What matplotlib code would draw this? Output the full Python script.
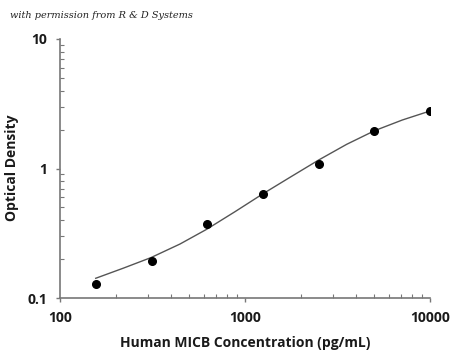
import numpy as np
import matplotlib
matplotlib.use("Agg")
import matplotlib.pyplot as plt
from matplotlib.ticker import LogLocator, NullFormatter, FixedLocator

# standard points (pg/mL, OD)
conc = [156, 312.5, 625, 1250, 2500, 5000, 10000]
od = [0.128, 0.192, 0.375, 0.635, 1.08, 1.95, 2.78]

# fitted curve
curve_x = [156, 220, 310, 445, 620, 883, 1246, 1751, 2502, 3544, 5022, 7088, 10000]
curve_y = [0.142, 0.170, 0.205, 0.261, 0.339, 0.464, 0.636, 0.855, 1.163, 1.537, 1.96, 2.369, 2.78]

x_ticks = [100, 1000, 10000]
x_ticklabels = ["100", "1000", "10000"]
y_ticks = [0.1, 1, 10]
y_ticklabels = ["0.1", "1", "10"]

fig = plt.figure(figsize=(4.5, 3.54), dpi=100)
ax = fig.add_axes([60/450, 1-298/354, 370/450, 259/354])

ax.plot(curve_x, curve_y, color="#555555", lw=1.0, zorder=2)
ax.plot(conc, od, "o", color="black", ms=5.5, zorder=3)

ax.set_xscale("log")
ax.set_yscale("log")
ax.set_xlim(100, 10000)
ax.set_ylim(0.1, 10)

for s in ["top", "right"]:
    ax.spines[s].set_visible(False)
for s in ["left", "bottom"]:
    ax.spines[s].set_color("#777777")
    ax.spines[s].set_linewidth(1.2)
    ax.spines[s].set_clip_on(False)

ax.xaxis.set_major_locator(FixedLocator(x_ticks))
ax.yaxis.set_major_locator(FixedLocator(y_ticks))
ax.set_xticklabels(x_ticklabels)
ax.set_yticklabels(y_ticklabels)
ax.xaxis.set_minor_locator(LogLocator(base=10, subs=np.arange(2, 10)))
ax.yaxis.set_minor_locator(LogLocator(base=10, subs=np.arange(2, 10)))
ax.xaxis.set_minor_formatter(NullFormatter())
ax.yaxis.set_minor_formatter(NullFormatter())

ax.tick_params(which="major", direction="out", length=3, width=1, color="#777777",
               labelsize=10, pad=6)
ax.tick_params(axis="x", which="major", pad=6)
ax.tick_params(which="minor", direction="in", length=3, width=0.8, color="#777777")
for lab in ax.get_xticklabels() + ax.get_yticklabels():
    lab.set_fontfamily("Open Sans")
    lab.set_fontweight("bold")
    lab.set_color("#1a1a1a")

fig.text(245/450, 1-343/354, "Human MICB Concentration (pg/mL)", fontfamily="Open Sans",
         fontweight="bold", fontsize=10, color="#1a1a1a", ha="center", va="center")
fig.text(12/450, 1-168/354, "Optical Density", fontfamily="Open Sans",
         fontweight="bold", fontsize=10, color="#1a1a1a", ha="center", va="center",
         rotation=90)

fig.text(10/450, 1-16/354, "with permission from R & D Systems",
         fontfamily="DejaVu Serif", fontstyle="italic", fontsize=7,
         color="#222222", va="center", ha="left")

fig.savefig("out.png", dpi=100)
